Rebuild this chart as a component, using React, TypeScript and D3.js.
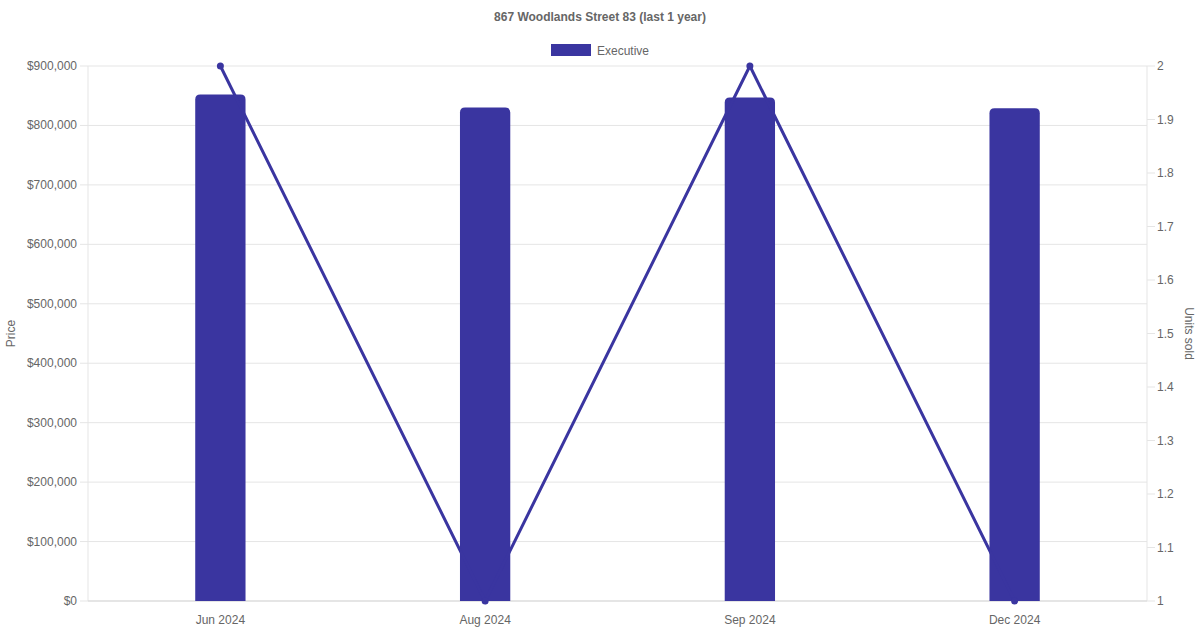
import React from "react";
import * as d3 from "d3";

const months = ["Jun 2024", "Aug 2024", "Sep 2024", "Dec 2024"];
const prices = [852000, 830000, 847000, 829000];
const unitsSold = [2, 1, 2, 1];
const priceTicks = [0, 100000, 200000, 300000, 400000, 500000, 600000, 700000, 800000, 900000];
const unitTicks = [1, 1.1, 1.2, 1.3, 1.4, 1.5, 1.6, 1.7, 1.8, 1.9, 2];

const W = 1200;
const H = 630;
const left = 88;
const right = 1147;
const top = 66;
const bottom = 601;
const color = "#3a35a0";
const textColor = "#666";
const gridColor = "#e5e5e5";
const font = "'Liberation Sans', Arial, Helvetica, sans-serif";

export default function App() {
  const x = d3.scaleBand<string>().domain(months).range([left, right]);
  const yPrice = d3.scaleLinear().domain([0, 900000]).range([bottom, top]);
  const yUnits = d3.scaleLinear().domain([1, 2]).range([bottom, top]);
  const barW = x.bandwidth() * 0.19;
  const r = 5;
  const fmt = (v: number) => "$" + d3.format(",")(v);

  const linePath = d3
    .line<number>()
    .x((_, i) => (x(months[i]) as number) + x.bandwidth() / 2)
    .y((d) => yUnits(d))(unitsSold) as string;

  const barPath = (cx: number, v: number) => {
    const x0 = cx - barW / 2;
    const x1 = cx + barW / 2;
    const y0 = yPrice(v);
    const y1 = yPrice(0);
    return `M${x0},${y1} L${x0},${y0 + r} Q${x0},${y0} ${x0 + r},${y0} L${x1 - r},${y0} Q${x1},${y0} ${x1},${y0 + r} L${x1},${y1} Z`;
  };

  return (
    <svg width={W} height={H} style={{ position: "absolute", left: 0, top: 0, fontFamily: font }}>
      <rect width={W} height={H} fill="#fff" />
      <text x={600} y={21} textAnchor="middle" fontSize={12} fontWeight="bold" fill={textColor}>
        867 Woodlands Street 83 (last 1 year)
      </text>
      <rect x={551} y={44} width={40} height={12} fill={color} />
      <text x={597} y={54.5} fontSize={12} fill={textColor}>Executive</text>

      {priceTicks.map((t) => (
        <g key={t}>
          <line x1={left - 8} x2={right} y1={yPrice(t)} y2={yPrice(t)} stroke={gridColor} strokeWidth={1} />
          <text x={77} y={yPrice(t) + 4} textAnchor="end" fontSize={12} fill={textColor}>{fmt(t)}</text>
        </g>
      ))}
      {unitTicks.map((t) => (
        <g key={t}>
          <line x1={right} x2={right + 8} y1={yUnits(t)} y2={yUnits(t)} stroke={gridColor} strokeWidth={1} />
          <text x={1157} y={yUnits(t) + 4} textAnchor="start" fontSize={12} fill={textColor}>{d3.format("~g")(t)}</text>
        </g>
      ))}
      <line x1={left} x2={left} y1={top} y2={bottom} stroke={gridColor} />
      <line x1={right} x2={right} y1={top} y2={bottom} stroke={gridColor} />
      <line x1={left} x2={right} y1={bottom} y2={bottom} stroke="#d8d8d8" />

      {months.map((m, i) => {
        const cx = (x(m) as number) + x.bandwidth() / 2;
        return (
          <g key={m}>
            <path d={barPath(cx, prices[i])} fill={color} />
            <text x={cx} y={624} textAnchor="middle" fontSize={12} fill={textColor}>{m}</text>
          </g>
        );
      })}

      <path d={linePath} fill="none" stroke={color} strokeWidth={3} />
      {unitsSold.map((u, i) => (
        <circle key={i} cx={(x(months[i]) as number) + x.bandwidth() / 2} cy={yUnits(u)} r={3.5} fill={color} />
      ))}

      <text transform={`translate(15,${(top + bottom) / 2}) rotate(-90)`} textAnchor="middle" fontSize={12} fill={textColor}>Price</text>
      <text transform={`translate(1185,${(top + bottom) / 2}) rotate(90)`} textAnchor="middle" fontSize={12} fill={textColor}>Units sold</text>
    </svg>
  );
}
